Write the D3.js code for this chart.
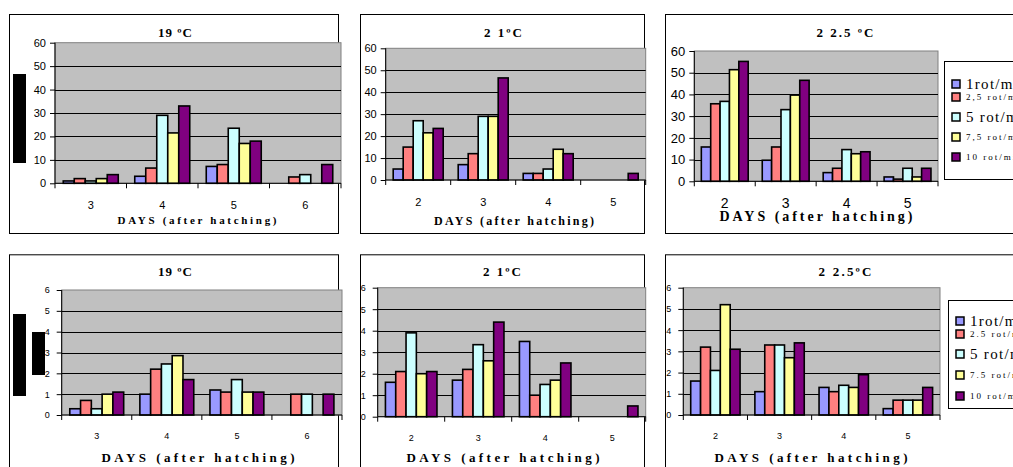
<!DOCTYPE html>
<html><head><meta charset="utf-8">
<script src="https://cdn.jsdelivr.net/npm/d3@7"></script>
<style>body{margin:0;background:#fff}svg{display:block}</style>
</head><body>
<svg id="c" width="1013" height="467"></svg>
<script>
// ---- data ----
const seriesTop = ["1rot/min", "2,5 rot/min", "5 rot/min", "7,5 rot/min", "10 rot/min"];
const seriesBottom = ["1rot/min", "2.5 rot/min", "5 rot/min", "7.5 rot/min", "10 rot/min"];
const colors = ["#9999ff", "#ff8080", "#ccffff", "#ffff99", "#800080"];
const days19 = ["3", "4", "5", "6"];
const days21 = ["2", "3", "4", "5"];
const days225 = ["2", "3", "4", "5"];
const ticksTop = [0, 10, 20, 30, 40, 50, 60];
const ticksBottom = [0, 1, 2, 3, 4, 5, 6];
// rows = series (1, 2.5, 5, 7.5, 10 rot/min), columns = days
const top19 = [[1, 3, 7.2, 0], [2, 6.5, 8, 2.7], [1, 29, 23.5, 3.7], [2, 21.5, 17, 0], [3.7, 33, 18, 8]];
const top21 = [[5, 7, 3, 0], [15, 12, 3, 0], [27, 29, 5, 0], [21.5, 29, 14, 0], [23.5, 46.5, 12, 3]];
const top225 = [[15.8, 9.7, 4, 2], [35.7, 15.8, 6, 1], [36.8, 33, 14.6, 6], [51.4, 39.7, 12.7, 2], [55.2, 46.5, 13.6, 6]];
const bot19 = [[0.3, 1.0, 1.2, 0], [0.7, 2.2, 1.1, 1.0], [0.3, 2.45, 1.7, 1.0], [1.0, 2.85, 1.1, 0], [1.1, 1.7, 1.1, 1.0]];
const bot21 = [[1.6, 1.7, 3.5, 0], [2.1, 2.2, 1.0, 0], [3.9, 3.35, 1.5, 0], [2.0, 2.6, 1.7, 0], [2.1, 4.4, 2.5, 0.5]];
const bot225 = [[1.6, 1.1, 1.3, 0.3], [3.2, 3.3, 1.1, 0.7], [2.1, 3.3, 1.4, 0.7], [5.2, 2.7, 1.3, 0.7], [3.1, 3.4, 1.9, 1.3]];
const titles = ["19 ºC", "2 1ºC", "2 2.5 ºC", "19 ºC", "2 1ºC", "2 2.5ºC"];
const xTitle = "DAYS (after hatching)";

// ---- layout ----
const panels = [
  {vals: top19, cats: days19, ticks: ticksTop, title: titles[0], frame: [9, 14, 338, 233], x0: 55, x1: 341, yT: 42.7, yB: 183.3, tx: 175, ty: 32, ts: 13, tw: 34, yf: 11, cf: 11, cy: 205, xf: 11, xty: 220, xtw: 159, xtx: 197},
  {vals: top21, cats: days21, ticks: ticksTop, title: titles[1], frame: [360, 14, 644, 233], x0: 385.7, x1: 645.7, yT: 48.3, yB: 180, tx: 503, ty: 32, ts: 13, tw: 38, yf: 11, cf: 11, cy: 202, xf: 12, xty: 221, xtw: 160, xtx: 514},
  {vals: top225, cats: days225, ticks: ticksTop, title: titles[2], frame: [665, 14, 1030, 233], x0: 694.3, x1: 938, yT: 51, yB: 181.3, tx: 845, ty: 32, ts: 13, tw: 57, yf: 13, cf: 14, cy: 203, xf: 14, xty: 216, xtw: 193, xtx: 816,
   legend: {labels: seriesTop, box: [944, 61, 1030, 179], ys: [84, 97, 117, 137, 157], sizes: [15, 9, 15, 9, 9]}},
  {vals: bot19, cats: days19, ticks: ticksBottom, title: titles[3], frame: [9, 254.3, 338, 490], x0: 61.7, x1: 342, yT: 290, yB: 415, tx: 175, ty: 271, ts: 13, tw: 34, yf: 9, cf: 9, cy: 436, xf: 13, xty: 457, xtw: 193, xtx: 198},
  {vals: bot21, cats: days21, ticks: ticksBottom, title: titles[4], frame: [360, 254.3, 644, 490], x0: 377.7, x1: 645.7, yT: 287.7, yB: 416.7, tx: 502, ty: 271, ts: 13, tw: 38, yf: 9, cf: 9, cy: 438, xf: 13, xty: 457, xtw: 193, xtx: 503},
  {vals: bot225, cats: days225, ticks: ticksBottom, title: titles[5], frame: [665, 254.3, 1030, 490], x0: 683.3, x1: 940, yT: 287.7, yB: 415, tx: 845, ty: 271, ts: 13, tw: 53, yf: 9, cf: 9, cy: 436, xf: 13, xty: 457, xtw: 193, xtx: 811,
   legend: {labels: seriesBottom, box: [948, 300, 1030, 408], ys: [321, 334, 354, 375, 396], sizes: [15, 9, 15, 9, 9]}}
];

const svg = d3.select("#c");
const sans = "'Liberation Sans', Arial, sans-serif";
const serif = "'Liberation Serif', 'Times New Roman', serif";

panels.forEach(p => {
  const g = svg.append("g");
  const [fx0, fy0, fx1, fy1] = p.frame;
  g.append("rect").attr("x", fx0 + 0.5).attr("y", fy0 + 0.5).attr("width", fx1 - fx0).attr("height", fy1 - fy0)
    .attr("fill", "#fff").attr("stroke", "#000").attr("stroke-width", 1);

  const y = d3.scaleLinear().domain([0, d3.max(p.ticks)]).range([p.yB, p.yT]);
  const x = d3.scaleBand().domain(p.cats).range([p.x0, p.x1]).padding(0);
  const xs = d3.scaleBand().domain(d3.range(5)).range([0, x.bandwidth()]).paddingInner(0).paddingOuter(0.75);

  // plot area
  g.append("rect").attr("x", p.x0).attr("y", p.yT).attr("width", p.x1 - p.x0).attr("height", p.yB - p.yT)
    .attr("fill", "#c0c0c0").attr("stroke", "#808080").attr("stroke-width", 1);
  // gridlines
  g.selectAll(".grid").data(p.ticks.filter(t => t > 0 && t < d3.max(p.ticks))).join("line")
    .attr("x1", p.x0).attr("x2", p.x1).attr("y1", d => Math.round(y(d)) + 0.5).attr("y2", d => Math.round(y(d)) + 0.5)
    .attr("stroke", "#000").attr("stroke-width", 1);

  // bars
  p.vals.forEach((row, si) => {
    g.selectAll(".b" + si).data(row.map((v, i) => ({v, c: p.cats[i]})).filter(d => d.v > 0)).join("rect")
      .attr("x", d => x(d.c) + xs(si)).attr("width", xs.bandwidth())
      .attr("y", d => y(d.v)).attr("height", d => y(0) - y(d.v))
      .attr("fill", colors[si]).attr("stroke", "#000").attr("stroke-width", 1.6);
  });

  // y axis
  const ya = d3.axisLeft(y).tickValues(p.ticks).tickSize(5).tickPadding(p.yf > 10 ? 4 : 7).tickFormat(d3.format("d"));
  const yg = g.append("g").attr("transform", `translate(${p.x0},0)`).call(ya);
  yg.selectAll("text").attr("font-family", sans).attr("font-size", p.yf).attr("fill", "#000");
  yg.selectAll("line,path").attr("stroke", "#000");
  yg.select(".domain").attr("d", `M0,${p.yT}V${p.yB}`);

  // x axis line and ticks at group boundaries
  g.append("line").attr("x1", p.x0).attr("x2", p.x1).attr("y1", p.yB).attr("y2", p.yB).attr("stroke", "#000");
  const bounds = p.cats.map(c => x(c)).concat([p.x1]);
  g.selectAll(".xt").data(bounds).join("line")
    .attr("x1", d => d).attr("x2", d => d).attr("y1", p.yB).attr("y2", p.yB + 5).attr("stroke", "#000");
  g.selectAll(".cl").data(p.cats).join("text")
    .attr("x", d => x(d) + x.bandwidth() / 2).attr("y", p.cy).attr("dy", "0.35em")
    .attr("text-anchor", "middle").attr("font-family", sans).attr("font-size", p.cf).text(d => d);

  // titles
  g.append("text").attr("x", p.tx).attr("y", p.ty).attr("dy", "0.35em").attr("text-anchor", "middle")
    .attr("font-family", serif).attr("font-weight", "bold").attr("font-size", p.ts)
    .attr("textLength", p.tw).attr("lengthAdjust", "spacing").text(p.title);
  g.append("text").attr("x", p.xtx).attr("y", p.xty).attr("dy", "0.35em").attr("text-anchor", "middle")
    .attr("font-family", serif).attr("font-weight", "bold").attr("font-size", p.xf)
    .attr("textLength", p.xtw).attr("lengthAdjust", "spacing").text(xTitle);

  // legend
  if (p.legend) {
    const L = p.legend;
    g.append("rect").attr("x", L.box[0] + 0.5).attr("y", L.box[1] + 0.5).attr("width", L.box[2] - L.box[0]).attr("height", L.box[3] - L.box[1])
      .attr("fill", "#fff").attr("stroke", "#000");
    L.labels.forEach((lab, i) => {
      g.append("rect").attr("x", L.box[0] + 8).attr("y", L.ys[i] - 4).attr("width", 8).attr("height", 8)
        .attr("fill", colors[i]).attr("stroke", "#000").attr("stroke-width", 1.5);
      g.append("text").attr("x", L.box[0] + 22).attr("y", L.ys[i]).attr("dy", "0.35em")
        .attr("font-family", serif).attr("font-size", L.sizes[i])
        .attr("letter-spacing", L.sizes[i] > 10 ? 1.3 : 2).text(lab);
    });
  }
});

// redaction blocks
const blocks = [[13, 74, 13, 89], [13, 314, 13, 82], [32, 332, 13, 43]];
svg.selectAll(".blk").data(blocks).join("rect")
  .attr("x", d => d[0]).attr("y", d => d[1]).attr("width", d => d[2]).attr("height", d => d[3]).attr("fill", "#000");
</script>
</body></html>
